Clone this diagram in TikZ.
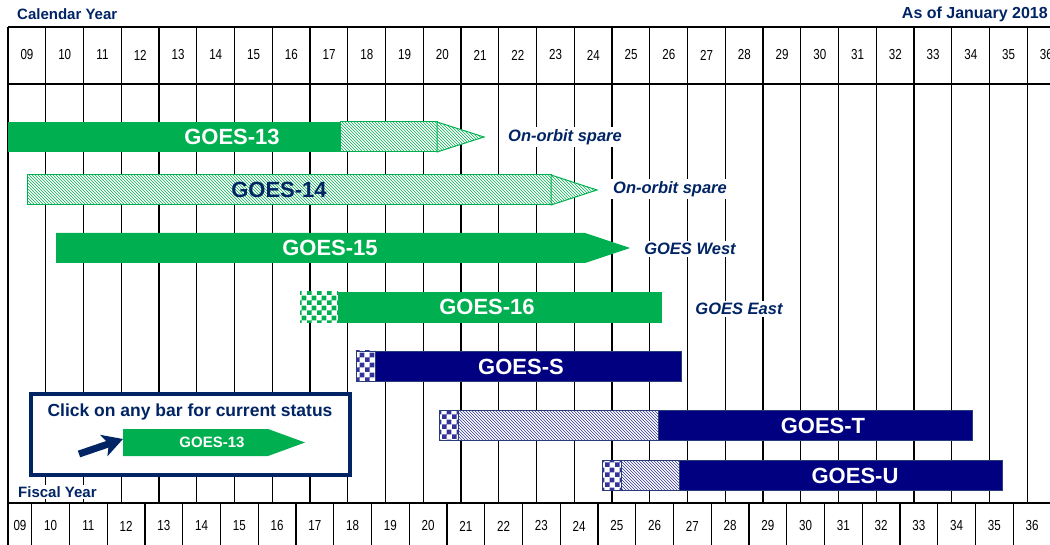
\documentclass[tikz,border=0pt]{standalone}
\usepackage{fontspec}
\setmainfont{Liberation Sans}
\newfontfamily\gnarrow[FakeStretch=0.8]{Liberation Sans}
\usetikzlibrary{arrows.meta,patterns}
\definecolor{ggrn}{RGB}{0,176,80}
\definecolor{gnav}{RGB}{0,0,128}
\definecolor{gedge}{RGB}{40,60,120}
\definecolor{gtxt}{RGB}{0,36,100}
% checker tile for the pre-launch storage part
\pgfdeclarepatternformonly{gchk}{\pgfpointorigin}{\pgfqpoint{9.6pt}{9.6pt}}{\pgfqpoint{9.6pt}{9.6pt}}{%
  \pgfpathrectangle{\pgfpointorigin}{\pgfqpoint{4.8pt}{4.8pt}}%
  \pgfpathrectangle{\pgfqpoint{4.8pt}{4.8pt}}{\pgfqpoint{4.8pt}{4.8pt}}%
  \pgfusepath{fill}}
\tikzset{
  ggrid/.style={line width=1.4pt,black},
  gyear/.style={font=\gnarrow\fontsize{14.5}{14}\selectfont,inner sep=0pt},
  ghead/.style={font=\bfseries\fontsize{15}{15}\selectfont,text=gtxt,inner sep=1pt},
  gsolid/.style={fill=ggrn},
  ghatch/.style={draw=ggrn,line width=1pt,preaction={fill=white},pattern=north west lines,pattern color=ggrn},
  gcheckG/.style={preaction={fill=white},pattern=gchk,pattern color=ggrn},
  nsolid/.style={fill=gnav,draw=gedge,line width=0.8pt},
  nhatch/.style={draw=gedge,line width=0.8pt,preaction={fill=white},pattern=north west lines,pattern color=gnav!80},
  gcheckN/.style={draw=gedge,line width=0.8pt,preaction={fill=white},pattern=gchk,pattern color=gnav!80},
  glabW/.style={font=\bfseries\fontsize{22}{22}\selectfont,text=white,inner sep=0pt},
  glabN/.style={font=\bfseries\fontsize{22}{22}\selectfont,text=gtxt,inner sep=0pt},
  gnote/.style={font=\bfseries\itshape\fontsize{16.5}{17}\selectfont,text=gtxt,fill=white,inner sep=2pt},
  gkeybox/.style={draw=gtxt,line width=3.5pt,fill=white},
  gclick/.style={-{Stealth[length=20pt,width=22pt,inset=5pt]},line width=7pt,gtxt},
}
\begin{document}
\begin{tikzpicture}[x=1pt,y=-1pt]
\useasboundingbox[fill=white] (0,0) rectangle (1050,545);
% ---- calendar-year grid with its header row
\foreach \n in {0,...,28}
  \draw[ggrid] (8+37.75*\n,27) -- (8+37.75*\n,503);
\draw[ggrid] (8,27) -- (1070,27);
\draw[ggrid] (8,84) -- (1070,84);
\draw[ggrid] (8,503) -- (1070,503);
% ---- fiscal-year row, shifted one quarter back
\draw[ggrid] (8,503) -- (8,548);
\foreach \n in {1,...,28}
  \draw[ggrid] (-6+37.75*\n,503) -- (-6+37.75*\n,548);
\foreach \yr [count=\k from 0] in {09,10,11,12,13,14,15,16,17,18,19,20,21,22,23,24,25,26,27,28,29,30,31,32,33,34,35,36}{
  \node[gyear] (cy\yr) at (27+37.75*\k,55) {\yr};
  \node[gyear] (fy\yr) at ({max(20,12.9+37.75*\k)},526) {\yr};}
\node[ghead,anchor=west] (calyr) at (16,14) {Calendar Year};
\node[ghead,anchor=east,font=\bfseries\fontsize{16}{16}\selectfont] (asof) at (1049,14) {As of January 2018};
\node[ghead,anchor=west,fill=white] (fisyr) at (17,492) {Fiscal Year};
% ---- GOES-13: operational, then on-orbit spare
\fill[gsolid] (8,122) rectangle (340,152);
\draw[ghatch] (340,122) rectangle (437,152);
\draw[ghatch] (437,122) -- (484,137) -- (437,152) -- cycle;
\node[glabW] (g13) at (232,137) {GOES-13};
\node[gnote] (g13n) at (565,137) {On-orbit spare};
% ---- GOES-14: on-orbit spare
\draw[ghatch] (27,175) rectangle (551,205);
\draw[ghatch] (551,175) -- (597,190) -- (551,205) -- cycle;
\node[glabN] (g14) at (279,190) {GOES-14};
\node[gnote] (g14n) at (670,189) {On-orbit spare};
% ---- GOES-15: GOES West
\fill[gsolid] (56,233) -- (585,233) -- (630,248) -- (585,263) -- (56,263) -- cycle;
\node[glabW] (g15) at (330,248) {GOES-15};
\node[gnote] (g15n) at (690,249) {GOES West};
% ---- GOES-16: GOES East
\fill[gcheckG] (300,292) rectangle (338,323);
\fill[gsolid] (338,292) rectangle (662,323);
\node[glabW] (g16) at (487,307) {GOES-16};
\node[gnote] (g16n) at (739,309) {GOES East};
% ---- GOES-S, GOES-T, GOES-U
\draw[gcheckN] (356,351) rectangle (375,381);
\draw[nsolid] (375,351) rectangle (681,381);
\node[glabW] (gS) at (521,367) {GOES-S};
\draw[gcheckN] (439,410) rectangle (458,440);
\draw[nhatch] (458,410) rectangle (658,440);
\draw[nsolid] (658,410) rectangle (972,440);
\node[glabW] (gT) at (823,426) {GOES-T};
\draw[gcheckN] (602,460) rectangle (621,490);
\draw[nhatch] (621,460) rectangle (679,490);
\draw[nsolid] (679,460) rectangle (1002,490);
\node[glabW] (gU) at (855,476) {GOES-U};
% ---- key box
\draw[gkeybox] (31,394) rectangle (350,475);
\node[font=\bfseries\fontsize{17.5}{17}\selectfont,text=gtxt,inner sep=0pt] (keytxt) at (190,412) {Click on any bar for current status};
\fill[gsolid] (123,429) -- (268,429) -- (305,442.5) -- (268,456) -- (123,456) -- cycle;
\node[font=\bfseries\fontsize{15}{15}\selectfont,text=white,inner sep=0pt] (keybar) at (212,442.5) {GOES-13};
\coordinate (keytail) at (79,454);
\coordinate (keytip) at (123,439);
\draw[gclick] (keytail) -- (keytip);
\end{tikzpicture}
\end{document}
